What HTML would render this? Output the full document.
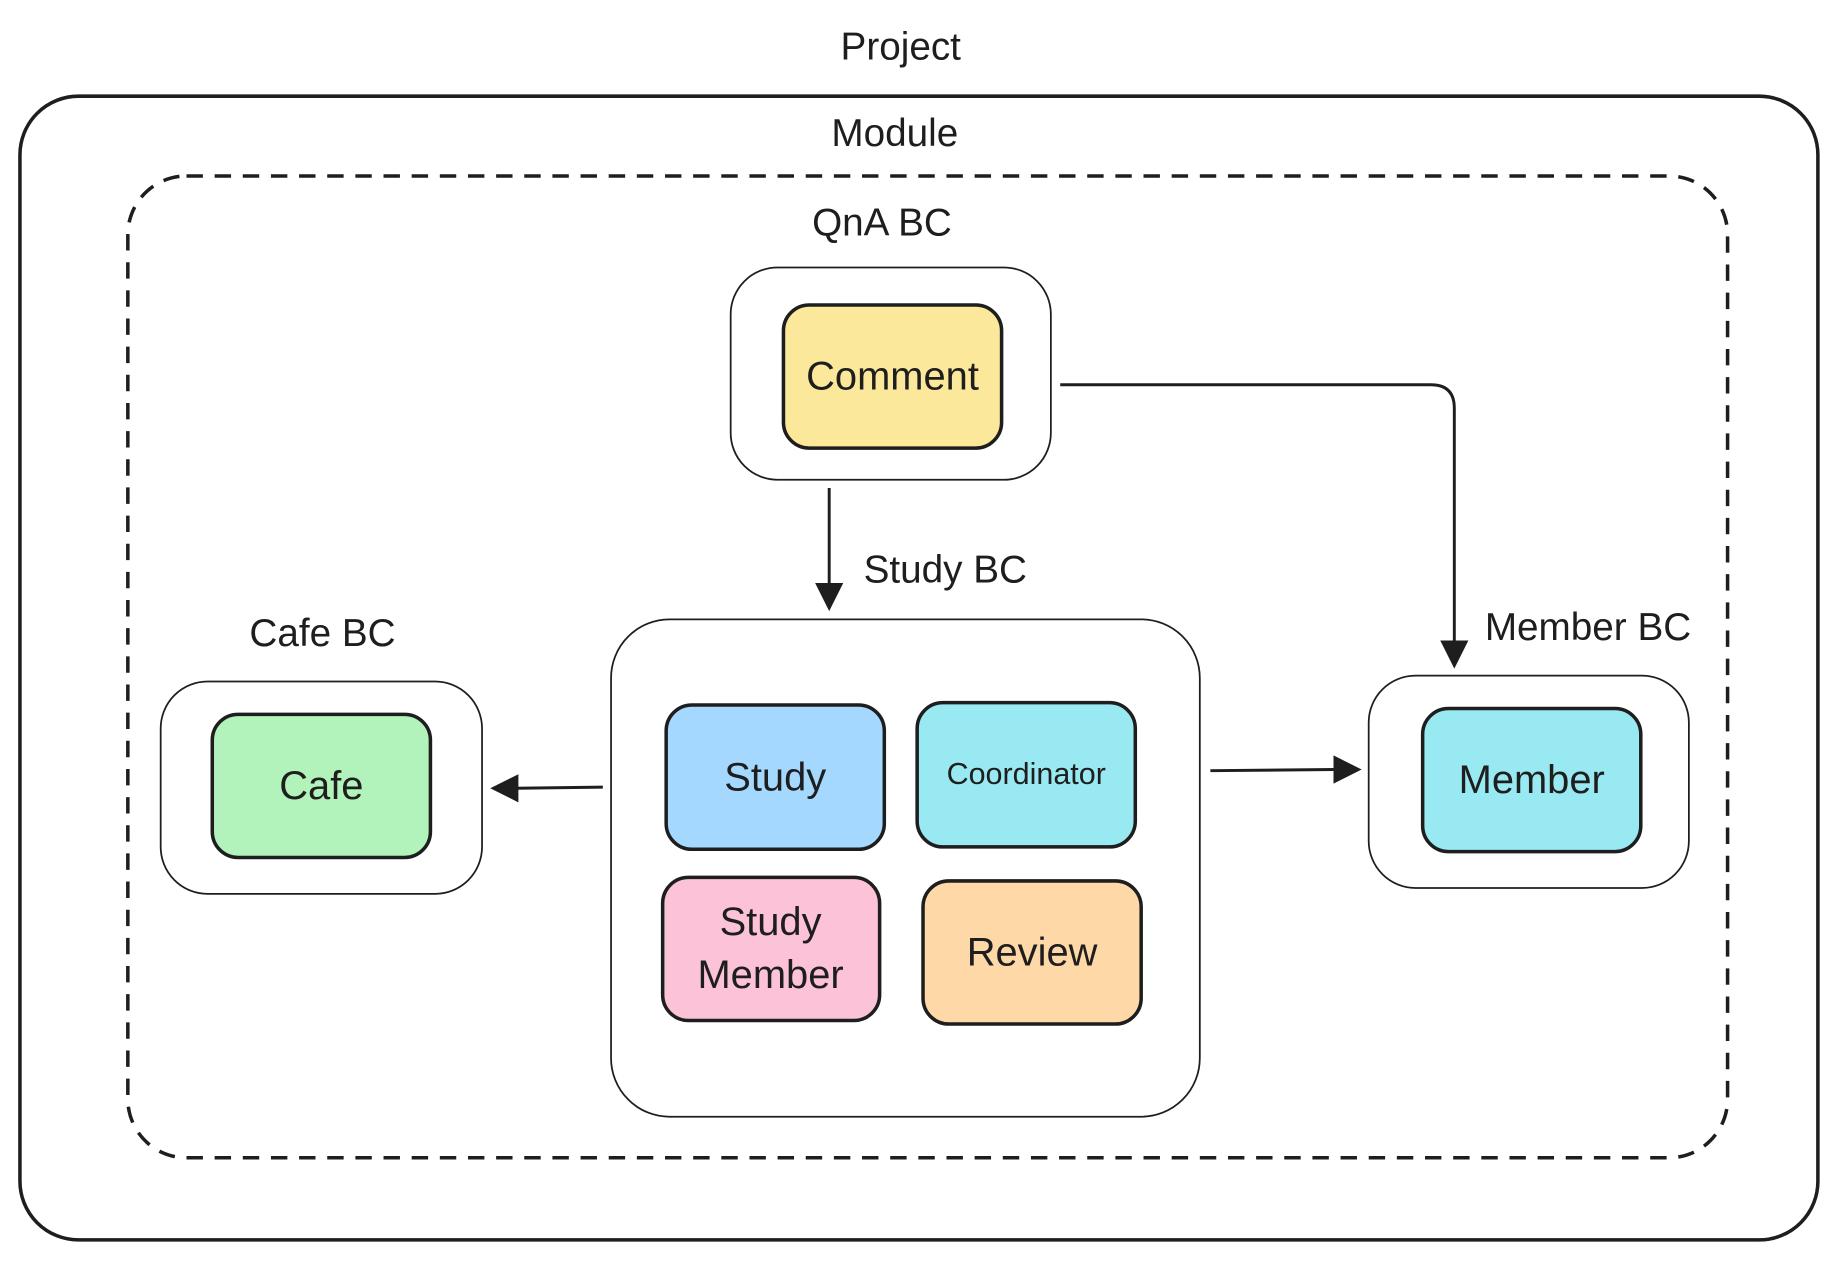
<!DOCTYPE html>
<html><head><meta charset="utf-8"><style>
html,body{margin:0;padding:0;background:#fff;}
svg{display:block;}
text{font-family:"Liberation Sans",sans-serif;fill:#1e1e1e;text-anchor:middle;dominant-baseline:central;}
</style></head><body>
<svg width="1839" height="1261" viewBox="0 0 1568 1075" preserveAspectRatio="none" xmlns="http://www.w3.org/2000/svg">
<rect x="0" y="0" width="1568" height="1075" fill="#fff"/>
<text x="768" y="40" font-size="33">Project</text>
<rect x="17" y="82" width="1533" height="975" rx="50" fill="none" stroke="#1e1e1e" stroke-width="3"/>
<text x="763" y="114" font-size="33">Module</text>
<rect x="109" y="150" width="1364" height="837" rx="50" fill="none" stroke="#1e1e1e" stroke-width="3" stroke-dasharray="14 10"/>

<text x="752" y="190" font-size="33">QnA BC</text>
<rect x="623" y="228" width="273" height="181" rx="40" fill="#fff" stroke="#1e1e1e" stroke-width="1.5"/>
<rect x="668" y="260" width="186" height="122" rx="22" fill="#fbe89a" stroke="#1e1e1e" stroke-width="3"/>
<text x="761" y="321" font-size="34">Comment</text>

<text x="806" y="486" font-size="33">Study BC</text>
<line x1="707" y1="416" x2="707" y2="498" stroke="#1e1e1e" stroke-width="2.5"/>
<polygon points="695,497 719,497 707,521" fill="#1e1e1e"/>
<rect x="521" y="528" width="502" height="424" rx="50" fill="#fff" stroke="#1e1e1e" stroke-width="1.5"/>
<rect x="568" y="601" width="186" height="123" rx="22" fill="#a5d8ff" stroke="#1e1e1e" stroke-width="3"/>
<text x="661" y="663" font-size="34">Study</text>
<rect x="782" y="599" width="186" height="123" rx="22" fill="#99e9f2" stroke="#1e1e1e" stroke-width="3"/>
<text x="875" y="660" font-size="26">Coordinator</text>
<rect x="565" y="748" width="185" height="122" rx="22" fill="#fcc2d7" stroke="#1e1e1e" stroke-width="3"/>
<text x="657" y="786" font-size="34">Study</text>
<text x="657" y="831" font-size="34">Member</text>
<rect x="787" y="751" width="186" height="122" rx="22" fill="#ffd8a8" stroke="#1e1e1e" stroke-width="3"/>
<text x="880" y="812" font-size="34">Review</text>

<text x="275" y="540" font-size="33">Cafe BC</text>
<rect x="137" y="581" width="274" height="181" rx="40" fill="#fff" stroke="#1e1e1e" stroke-width="1.5"/>
<rect x="181" y="609" width="186" height="122" rx="22" fill="#b2f2bb" stroke="#1e1e1e" stroke-width="3"/>
<text x="274" y="670" font-size="34">Cafe</text>
<line x1="514" y1="671" x2="440" y2="672" stroke="#1e1e1e" stroke-width="2.5"/>
<polygon points="418,672 442,660 442,684" fill="#1e1e1e"/>

<text x="1354" y="535" font-size="33">Member BC</text>
<rect x="1167" y="576" width="273" height="181" rx="40" fill="#fff" stroke="#1e1e1e" stroke-width="1.5"/>
<rect x="1213" y="604" width="186" height="122" rx="22" fill="#99e9f2" stroke="#1e1e1e" stroke-width="3"/>
<text x="1306" y="665" font-size="34">Member</text>
<line x1="1032" y1="657" x2="1138" y2="656" stroke="#1e1e1e" stroke-width="2.5"/>
<polygon points="1161,656 1137,644 1137,668" fill="#1e1e1e"/>

<path d="M904,328 L1220,328 Q1240,328 1240,348 L1240,548" fill="none" stroke="#1e1e1e" stroke-width="2.5"/>
<polygon points="1228,546 1252,546 1240,570" fill="#1e1e1e"/>
</svg>
</body></html>
